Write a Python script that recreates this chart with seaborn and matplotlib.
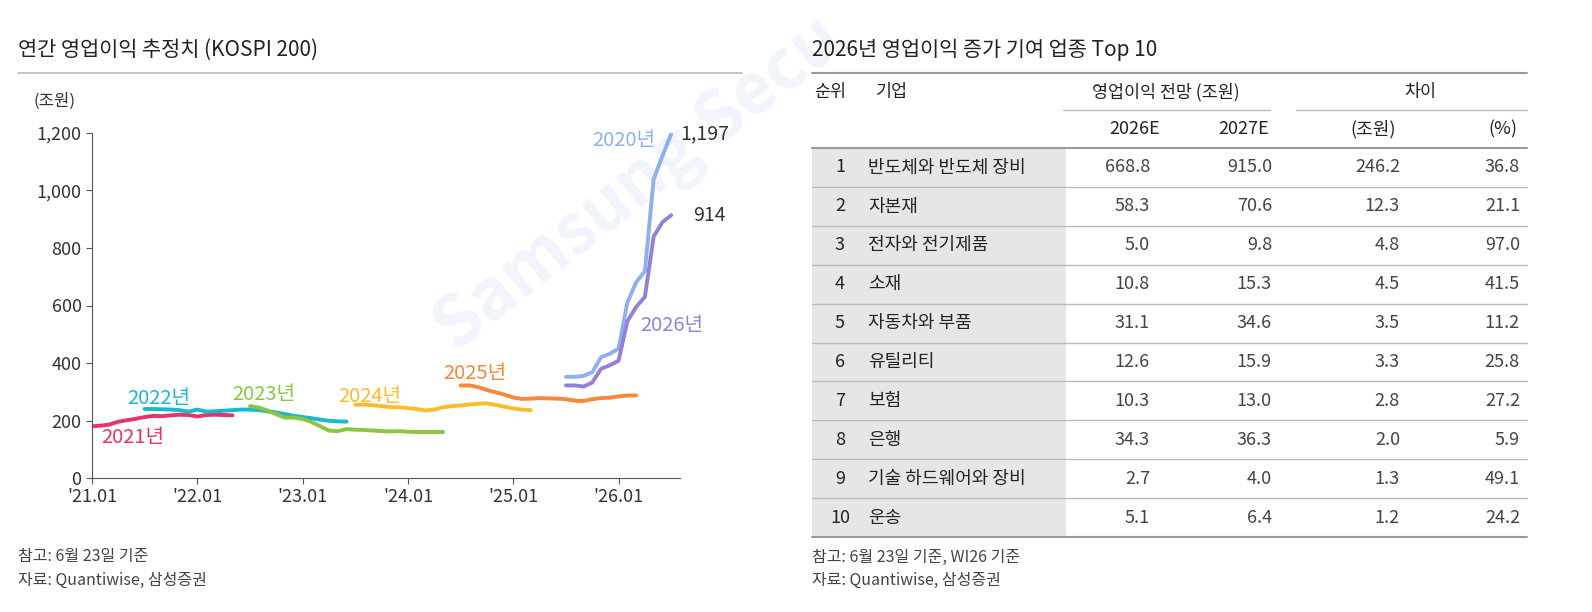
import matplotlib
matplotlib.use("Agg")
import matplotlib.pyplot as plt
import numpy as np
import pandas as pd
import seaborn as sns

sns.set_style("white")
plt.rcParams["font.family"] = ["Noto Sans CJK KR", "DejaVu Sans"]

W, H = 1592, 612

# ---- left chart data (month index 0 = 2021.01) ----
s2021_start, s2021 = 0, [180, 182, 186, 196, 201, 206, 212, 216, 215, 218, 220, 219, 214, 219, 220, 219, 218]
s2022_start, s2022 = 6, [240, 240, 239, 238, 236, 231, 238, 231, 232, 234, 236, 238, 238, 236, 232, 228, 222,
                         216, 212, 208, 203, 199, 197, 196]
s2023_start, s2023 = 18, [250, 245, 235, 222, 210, 210, 205, 195, 180, 165, 163, 170, 168, 167, 165, 163, 162,
                          163, 161, 160, 160, 160, 160]
s2024_start, s2024 = 30, [255, 255, 253, 250, 246, 246, 243, 240, 235, 238, 246, 250, 252, 256, 258, 260, 254,
                          248, 242, 238, 236]
s2025_start, s2025 = 42, [322, 322, 316, 306, 298, 290, 280, 275, 276, 278, 277, 276, 274, 269, 268, 274, 278,
                          279, 284, 287, 287]
s2020_start, s2020 = 54, [352, 352, 355, 368, 420, 432, 450, 610, 680, 720, 1040, 1120, 1197]
s2026_start, s2026 = 54, [322, 322, 318, 332, 380, 392, 408, 545, 595, 630, 840, 890, 914]

series = [
    ("2021년", s2021_start, s2021, "#e8336a"),
    ("2022년", s2022_start, s2022, "#17b8d0"),
    ("2023년", s2023_start, s2023, "#8cc63f"),
    ("2024년", s2024_start, s2024, "#fcbc2a"),
    ("2025년", s2025_start, s2025, "#f7873a"),
    ("2020년", s2020_start, s2020, "#8fb0ee"),
    ("2026년", s2026_start, s2026, "#9580d9"),
]
xtick_labels = ["'21.01", "'22.01", "'23.01", "'24.01", "'25.01", "'26.01"]

# ---- right table data ----
ranks = list(range(1, 11))
sectors = ["반도체와 반도체 장비", "자본재", "전자와 전기제품", "소재", "자동차와 부품",
           "유틸리티", "보험", "은행", "기술 하드웨어와 장비", "운송"]
op_2026 = [668.8, 58.3, 5.0, 10.8, 31.1, 12.6, 10.3, 34.3, 2.7, 5.1]
op_2027 = [915.0, 70.6, 9.8, 15.3, 34.6, 15.9, 13.0, 36.3, 4.0, 6.4]
diff_won = [246.2, 12.3, 4.8, 4.5, 3.5, 3.3, 2.8, 2.0, 1.3, 1.2]
diff_pct = [36.8, 21.1, 97.0, 41.5, 11.2, 25.8, 27.2, 5.9, 49.1, 24.2]

fig = plt.figure(figsize=(W / 100, H / 100), dpi=100)


def fx(px):
    return px / W


def fy(py):
    return 1 - py / H


# faint watermark, drawn beneath everything else
fig.text(fx(640), fy(185), "Samsung Secu", fontsize=50, color="#f1f4fc", rotation=38,
         ha="center", va="center", fontweight="bold", zorder=-5)

# ---- left chart ----
ax = fig.add_axes([fx(92), fy(478), fx(680 - 92), fy(133) - fy(478)])
ax.patch.set_alpha(0)
rows = []
for name, start, vals, col in series:
    for i, v in enumerate(vals):
        rows.append({"month": start + i, "value": v, "series": name})
df = pd.DataFrame(rows)
palette = {name: col for name, _, _, col in series}
sns.lineplot(data=df, x="month", y="value", hue="series", palette=palette, linewidth=2.8,
             ax=ax, legend=False)
ax.set_xlim(0, 67)
ax.set_ylim(0, 1200)
ax.set_xticks([0, 12, 24, 36, 48, 60])
ax.set_xticklabels(xtick_labels)
ax.set_yticks(range(0, 1201, 200))
ax.set_yticklabels([f"{v:,}" for v in range(0, 1201, 200)])
ax.set_xlabel("")
ax.set_ylabel("")
for s in ["top", "right"]:
    ax.spines[s].set_visible(False)
for s in ["left", "bottom"]:
    ax.spines[s].set_color("#555555")
ax.tick_params(axis="both", length=4, color="#555555", labelsize=13, labelcolor="#333333",
               direction="out", left=True, bottom=True)
ax.text(-0.1, 1.08, "(조원)", transform=ax.transAxes, fontsize=12, color="#333333", ha="left")

labels = {"2021년": (1, 140), "2022년": (4, 275), "2023년": (16, 290),
          "2024년": (28, 285), "2025년": (40, 365), "2020년": (57, 1175),
          "2026년": (62.5, 530)}
for name, (x, y) in labels.items():
    ax.text(x, y, name, color=palette[name], fontsize=14.5, ha="left", va="center")
ax.text(67, 1197, "1,197", fontsize=14, color="#333333", va="center", clip_on=False)
ax.text(68.5, 914, "914", fontsize=14, color="#333333", va="center", clip_on=False)

fig.text(fx(18), fy(50), "연간 영업이익 추정치 (KOSPI 200)", fontsize=15, fontweight="medium",
         color="#222222", va="center")
fig.add_artist(plt.Line2D([fx(18), fx(742)], [fy(73), fy(73)], color="#bbbbbb", lw=1.2))
fig.text(fx(18), fy(557), "참고: 6월 23일 기준", fontsize=11.5, color="#444444", va="center")
fig.text(fx(18), fy(580), "자료: Quantiwise, 삼성증권", fontsize=11.5, color="#444444", va="center")

# ---- right table ----
L, R = 812, 1527
fig.text(fx(L), fy(50), "2026년 영업이익 증가 기여 업종 Top 10", fontsize=15, fontweight="medium",
         color="#222222", va="center")


def hline(x0, x1, y, color="#999999", lw=1.0):
    fig.add_artist(plt.Line2D([fx(x0), fx(x1)], [fy(y), fy(y)], color=color, lw=lw))


hline(L, R, 73, "#999999", 1.5)
hline(1063, 1270, 110, "#bbbbbb", 1.0)
hline(1296, R, 110, "#bbbbbb", 1.0)
hline(L, R, 148, "#999999", 1.5)

hdr = dict(fontsize=12.5, color="#222222", va="center", fontweight="medium")
fig.text(fx(830), fy(92), "순위", ha="center", **hdr)
fig.text(fx(876), fy(92), "기업", ha="left", **hdr)
fig.text(fx(1166), fy(92), "영업이익 전망 (조원)", ha="center", **hdr)
fig.text(fx(1420), fy(92), "차이", ha="center", **hdr)
sub = dict(fontsize=13, color="#222222", va="center", fontweight="medium")
fig.text(fx(1135), fy(129), "2026E", ha="center", **sub)
fig.text(fx(1244), fy(129), "2027E", ha="center", **sub)
fig.text(fx(1373), fy(129), "(조원)", ha="center", **sub)
fig.text(fx(1503), fy(129), "(%)", ha="center", **sub)

row_h = (537 - 148) / 10
for i in range(10):
    top = 148 + i * row_h
    mid = top + row_h / 2
    fig.add_artist(plt.Rectangle((fx(L), fy(top + row_h)), fx(1066 - L), fy(top) - fy(top + row_h),
                                 color="#e6e6e6", lw=0, zorder=0))
    if i > 0:
        hline(L, R, top, "#bbbbbb", 1.0)
    cell = dict(fontsize=13, va="center")
    fig.text(fx(840), fy(mid), str(ranks[i]), ha="center", color="#222222", fontweight="medium", **cell)
    fig.text(fx(868), fy(mid), sectors[i], ha="left", color="#222222", fontweight="medium", **cell)
    fig.text(fx(1150), fy(mid), f"{op_2026[i]:.1f}", ha="right", color="#444444", **cell)
    fig.text(fx(1272), fy(mid), f"{op_2027[i]:.1f}", ha="right", color="#444444", **cell)
    fig.text(fx(1400), fy(mid), f"{diff_won[i]:.1f}", ha="right", color="#444444", **cell)
    fig.text(fx(1520), fy(mid), f"{diff_pct[i]:.1f}", ha="right", color="#444444", **cell)
hline(L, R, 537, "#999999", 1.5)

fig.text(fx(L), fy(557), "참고: 6월 23일 기준, WI26 기준", fontsize=11.5, color="#444444", va="center")
fig.text(fx(L), fy(580), "자료: Quantiwise, 삼성증권", fontsize=11.5, color="#444444", va="center")

fig.savefig("out.png", dpi=100)
